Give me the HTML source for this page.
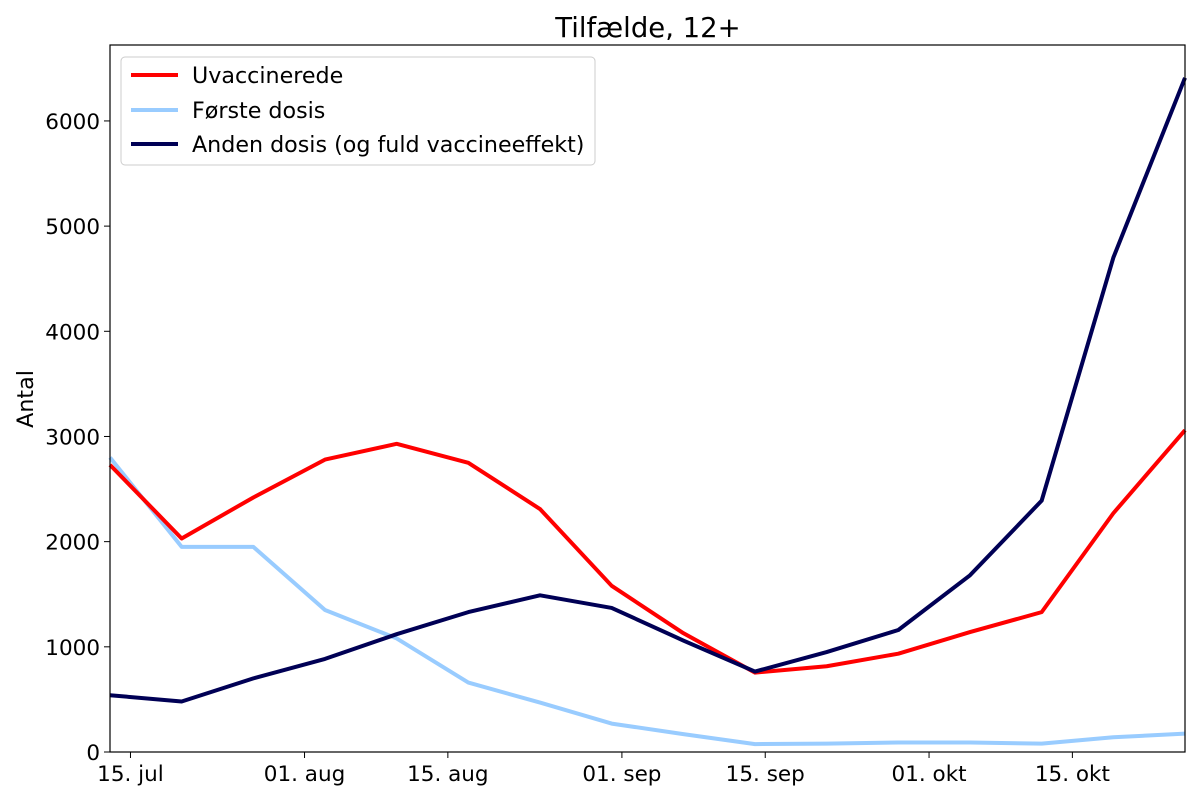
<!DOCTYPE html>
<html><head><meta charset="utf-8"><style>
body{margin:0;background:#fff;}
svg text{font-family:"DejaVu Sans","Liberation Sans",sans-serif;}
</style></head><body>
<svg id="chart" width="1200" height="800" xmlns="http://www.w3.org/2000/svg">
<text x="648" y="37" font-size="27.5" text-anchor="middle">Tilfælde, 12+</text>
<text transform="translate(33,399) rotate(-90)" font-size="22.2" text-anchor="middle">Antal</text>
<g id="grid"></g><g id="lines"></g>
<rect x="110" y="45" width="1075" height="707" fill="none" stroke="#000" stroke-width="1.2"/>
<g>
<rect x="121" y="57" width="474" height="108" rx="4" fill="#fff" stroke="#ccc"/>
<line x1="131" y1="75" x2="178" y2="75" stroke="#ff0000" stroke-width="4"/>
<text x="192" y="83" font-size="22.2">Uvaccinerede</text>
<line x1="131" y1="110" x2="178" y2="110" stroke="#99ccff" stroke-width="4"/>
<text x="192" y="118" font-size="22.2">Første dosis</text>
<line x1="131" y1="144" x2="178" y2="144" stroke="#000055" stroke-width="4"/>
<text x="192" y="152" font-size="22.2">Anden dosis (og fuld vaccineeffekt)</text>
</g>
</svg>
<script>
const weeks = [0,1,2,3,4,5,6,7,8,9,10,11,12,13,14,15];
const uvaccinerede = [2730,2030,2420,2780,2930,2750,2310,1580,1130,755,815,935,1140,1330,2270,3060];
const forsteDosis = [2800,1950,1950,1350,1080,660,470,270,170,75,80,90,90,80,140,175];
const andenDosis = [540,480,700,885,1120,1330,1490,1370,1060,765,950,1160,1680,2390,4700,6410];
const yTicks = [0,1000,2000,3000,4000,5000,6000];
const xTickDays = [2,19,33,50,64,80,94];
const xTickLabels = ["15. jul","01. aug","15. aug","01. sep","15. sep","01. okt","15. okt"];
const NS="http://www.w3.org/2000/svg";
const x0=110,x1=1185,y0=752,y1=45,totalDays=105,yMax=6722;
const xDay=d=>x0+d/totalDays*(x1-x0);
const xW=w=>xDay(w*7);
const y=v=>y0-v/yMax*(y0-y1);
const grid=document.getElementById('grid');
function mk(tag,attrs,parent){const e=document.createElementNS(NS,tag);for(const k in attrs)e.setAttribute(k,attrs[k]);parent.appendChild(e);return e;}
yTicks.forEach(v=>{
 const t=mk('line',{x1:x0-6,x2:x0,y1:y(v),y2:y(v),stroke:'#000'},grid);
 
 
 const l=mk('text',{x:x0-10,y:y(v)+8,'font-size':21.5,'text-anchor':'end'},grid);
 l.textContent=v;
 
 
});
xTickDays.forEach((d,i)=>{
 const t=mk('line',{x1:xDay(d),x2:xDay(d),y1:y0,y2:y0+6,stroke:'#000'},grid);
 
 
 const l=mk('text',{x:xDay(d),y:y0+29,'font-size':21.5,'text-anchor':'middle'},grid);
 l.textContent=xTickLabels[i];
 
 
});
const lines=document.getElementById('lines');
[[forsteDosis,'#99ccff','line-forste-dosis'],[uvaccinerede,'#ff0000','line-uvaccinerede'],[andenDosis,'#000055','line-anden-dosis']].forEach(([s,c,n])=>{
 const p=mk('polyline',{points:s.map((v,i)=>xW(weeks[i])+','+y(v)).join(' '),fill:'none',stroke:c,'stroke-width':4,'stroke-linejoin':'round'},lines);
 
 
});
</script>
</body></html>
